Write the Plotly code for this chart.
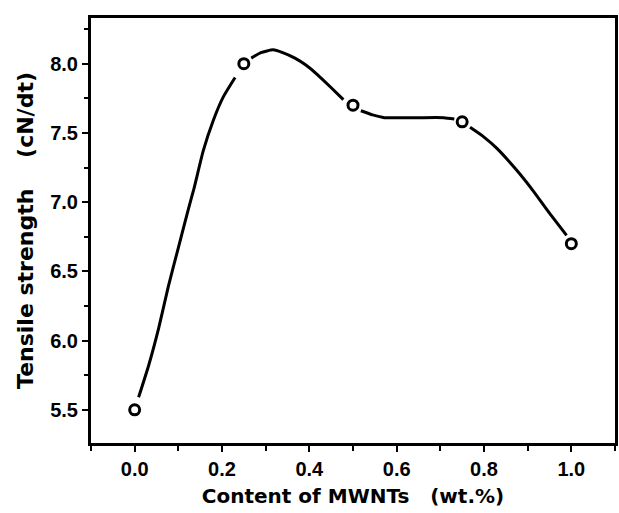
import plotly.graph_objects as go

# Measured points
x_pts = [0.0, 0.25, 0.5, 0.75, 1.0]
y_pts = [5.5, 8.0, 7.7, 7.58, 6.7]

# Smooth guide curve (None = gap around markers)
curve_x = [0.009, 0.032, 0.055, 0.077, 0.100, 0.123, 0.136, 0.157, 0.180, 0.203, 0.230, None,
           0.267, 0.289, 0.317, 0.339, 0.367, 0.392, 0.419, 0.449, 0.478, None,
           0.518, 0.545, 0.572, 0.647, 0.708, 0.732, None,
           0.768, 0.8, 0.829, 0.875, 0.913, 0.95, 0.989]
curve_y = [5.59, 5.82, 6.09, 6.39, 6.67, 6.95, 7.10, 7.37, 7.59, 7.76, 7.90, None,
           8.04, 8.08, 8.10, 8.08, 8.04, 7.99, 7.92, 7.83, 7.74, None,
           7.66, 7.63, 7.61, 7.61, 7.61, 7.60, None,
           7.54, 7.47, 7.39, 7.23, 7.08, 6.92, 6.76]

x_ticks = [0.0, 0.2, 0.4, 0.6, 0.8, 1.0]
y_ticks = [5.5, 6.0, 6.5, 7.0, 7.5, 8.0]

tick_font = "Liberation Sans, Arial, sans-serif"
title_font = "DejaVu Sans, sans-serif"

fig = go.Figure()
fig.add_trace(go.Scatter(x=curve_x, y=curve_y, mode="lines",
                         line=dict(color="black", width=3, shape="spline", smoothing=0.5),
                         connectgaps=False, hoverinfo="skip", showlegend=False))
fig.add_trace(go.Scatter(x=x_pts, y=y_pts, mode="markers",
                         marker=dict(symbol="circle", size=10, color="white",
                                     line=dict(color="black", width=3)),
                         showlegend=False))

fig.update_layout(
    width=619, height=513,
    margin=dict(l=91, r=1, t=18, b=70),
    paper_bgcolor="white", plot_bgcolor="white",
    font=dict(family=tick_font, color="black"),
    xaxis=dict(range=[-0.1, 1.1], tickvals=x_ticks, ticktext=[f"{v:.1f}" for v in x_ticks],
               showgrid=False, zeroline=False, showline=True, linecolor="black", linewidth=3,
               mirror=True, ticks="outside", ticklen=6, tickwidth=2, tickcolor="black",
               minor=dict(dtick=0.1, tick0=0, ticks="outside", ticklen=5, tickwidth=2, tickcolor="black"),
               tickfont=dict(size=20, family=tick_font, weight="bold"),
               title=dict(text="Content of MWNTs\u00a0\u00a0 (wt.%)",
                          font=dict(size=20, family=title_font, weight="bold"), standoff=10)),
    yaxis=dict(range=[5.26, 8.33], tickvals=y_ticks, ticktext=[f"{v:.1f}" for v in y_ticks],
               showgrid=False, zeroline=False, showline=True, linecolor="black", linewidth=3,
               mirror=True, ticks="outside", ticklen=6, tickwidth=2, tickcolor="black",
               minor=dict(dtick=0.25, tick0=5.5, ticks="outside", ticklen=4, tickwidth=2, tickcolor="black"),
               tickfont=dict(size=20, family=tick_font, weight="bold"),
               title=dict(text="Tensile strength\u00a0\u00a0\u00a0 (cN/dt)",
                          font=dict(size=22, family=title_font, weight="bold"), standoff=11)),
)

fig.write_html("out.html")
